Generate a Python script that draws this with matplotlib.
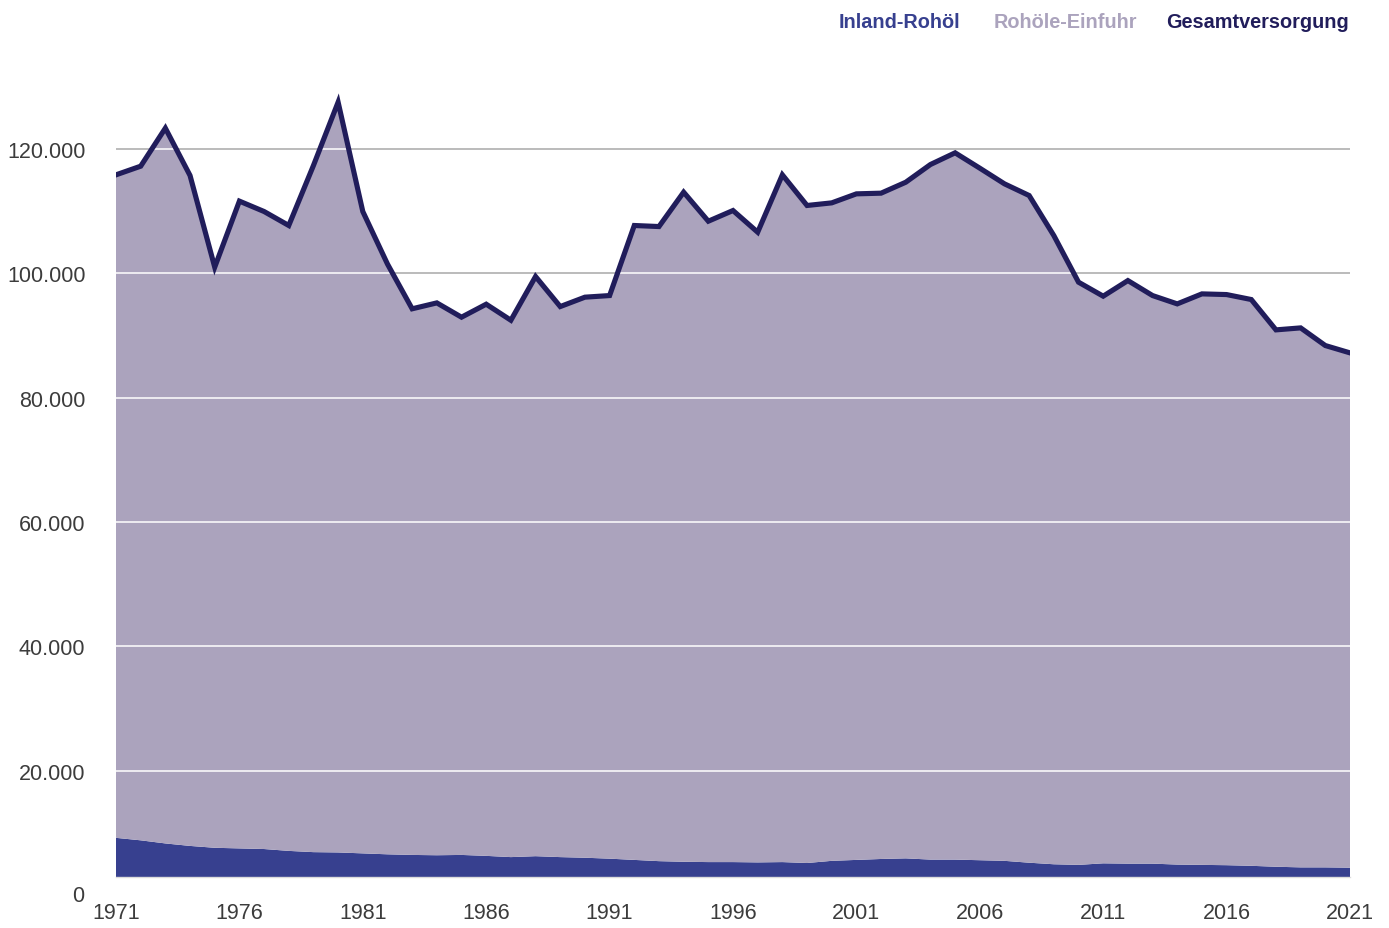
import matplotlib.pyplot as plt
from matplotlib.transforms import blended_transform_factory

plt.rcParams['font.family'] = ['Liberation Sans', 'DejaVu Sans']

years = list(range(1971, 2022))

# Gesamtversorgung (1000 t)
gesamt = [115850, 117240, 123360, 115740, 101000, 111620, 109950, 107700, 117350, 127540,
          109950, 101500, 94300, 95250, 92950, 95040, 92460, 99490, 94660, 96170,
          96430, 107700, 107530, 113060, 108390, 110110, 106620, 115850, 110920, 111340,
          112790, 112900, 114660, 117510, 119390, 116920, 114400, 112520, 106080, 98580,
          96330, 98840, 96430, 95090, 96700, 96590, 95790, 90910, 91230, 88390,
          87210]

# Inland-Rohöl (1000 t)
inland = [9200, 8800, 8300, 7900, 7600, 7500, 7400, 7100, 6900, 6850,
          6700, 6550, 6450, 6400, 6450, 6300, 6100, 6250, 6100, 6000,
          5850, 5650, 5450, 5350, 5300, 5300, 5250, 5300, 5150, 5500,
          5650, 5800, 5900, 5700, 5700, 5600, 5500, 5200, 4950, 4850,
          5100, 5050, 5050, 4900, 4850, 4800, 4700, 4550, 4450, 4450,
          4400]

einfuhr = [g - i for g, i in zip(gesamt, inland)]

x_ticks = list(range(1971, 2022, 5))
y_ticks = [20000, 40000, 60000, 80000, 100000, 120000]
y_labels = ['20.000', '40.000', '60.000', '80.000', '100.000', '120.000']

c_inland = '#37408f'
c_einfuhr = '#aba3bd'
c_gesamt = '#211d5b'

fig = plt.figure(figsize=(13.89, 9.29), dpi=100)
ax = fig.add_axes([116 / 1389, 51 / 929, 1234 / 1389, 815 / 929])

ax.set_xlim(1971, 2021)
ax.set_ylim(2900, 134000)

# gray grid lines behind the area
for v in y_ticks:
    ax.axhline(v, color='#a8a8a8', lw=1.1, zorder=0)

ax.stackplot(years, inland, einfuhr, colors=[c_inland, c_einfuhr], zorder=1, lw=0)

# white grid lines inside the area
outline = ax.fill_between(years, 0, gesamt, color='none', lw=0)
clip = outline.get_paths()[0]
for v in y_ticks:
    ln = ax.axhline(v, color='white', lw=1.1, zorder=2)
    ln.set_clip_path(clip, ax.transData)

ax.plot(years, gesamt, color=c_gesamt, lw=3.7, zorder=3, solid_joinstyle='miter')

for s in ['top', 'right', 'left']:
    ax.spines[s].set_visible(False)
ax.spines['bottom'].set_color('#dcdcdc')
ax.spines['bottom'].set_linewidth(1.0)

ax.set_yticks(y_ticks)
ax.set_yticklabels(y_labels)
ax.set_xticks(x_ticks)
ax.set_xticklabels([str(t) for t in x_ticks])
ax.tick_params(axis='both', length=0, labelsize=15.5, labelcolor='#3c3c3c')
ax.tick_params(axis='y', pad=22)
ax.tick_params(axis='x', pad=18)

trans = blended_transform_factory(ax.transAxes, ax.transData)
ax.text(-32 / 1234, 0, '0', transform=trans, ha='right', va='center',
        fontsize=15.5, color='#3c3c3c', clip_on=False)

fig.text(839 / 1389, 1 - 22 / 929, 'Inland-Rohöl', color=c_inland, fontsize=14.3,
         fontweight='bold', ha='left', va='center')
fig.text(994 / 1389, 1 - 22 / 929, 'Rohöle-Einfuhr', color=c_einfuhr, fontsize=14.3,
         fontweight='bold', ha='left', va='center')
fig.text(1349 / 1389, 1 - 22 / 929, 'Gesamtversorgung', color=c_gesamt, fontsize=14.3,
         fontweight='bold', ha='right', va='center')

fig.savefig('out.png', dpi=100)
